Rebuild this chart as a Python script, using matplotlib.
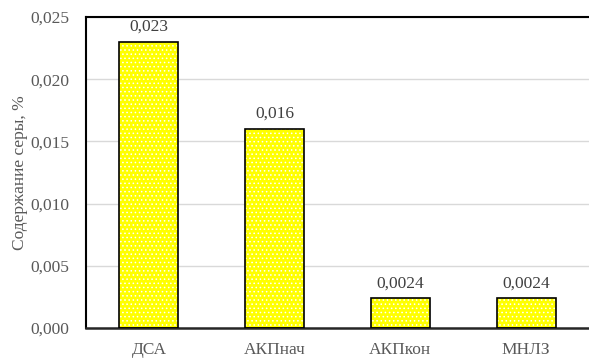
import matplotlib
matplotlib.use("Agg")
import matplotlib.pyplot as plt
from matplotlib.ticker import FuncFormatter, MultipleLocator

categories = ["ДСА", "АКПнач", "АКПкон", "МНЛЗ"]
sulfur = [0.023, 0.016, 0.0024, 0.0024]
value_labels = ["0,023", "0,016", "0,0024", "0,0024"]

plt.rcParams["font.family"] = ["Liberation Serif", "DejaVu Serif"]
plt.rcParams["hatch.linewidth"] = 0.6
text_color = "#595959"

fig = plt.figure(figsize=(5.89, 3.58), dpi=100)
ax = fig.add_axes([86 / 589, 1 - 328 / 358, 1 - 86 / 589, (328 - 17) / 358])

x = list(range(len(categories)))
width = 0.47
ax.bar(x, sulfur, width=width, color="#ffff00", edgecolor="none", zorder=2)
ax.bar(x, sulfur, width=width, color="none", edgecolor="white", hatch="....",
       linewidth=0, zorder=3)
ax.bar(x, sulfur, width=width, color="none", edgecolor="black", linewidth=1.2,
       zorder=4)

for xi, v, lab in zip(x, sulfur, value_labels):
    ax.annotate(lab, (xi, v), xytext=(0, 5), textcoords="offset points",
                ha="center", va="bottom", fontsize=12.5, color="#404040")

ax.set_xlim(-0.5, 3.5)
ax.set_ylim(0, 0.025)
ax.yaxis.set_major_locator(MultipleLocator(0.005))
ax.yaxis.set_major_formatter(FuncFormatter(lambda v, p: f"{v:.3f}".replace(".", ",")))
ax.set_xticks(x)
ax.set_xticklabels(categories)
ax.tick_params(axis="both", length=0, labelsize=12.5, labelcolor=text_color)
ax.tick_params(axis="y", pad=12)
ax.tick_params(axis="x", pad=10)
ax.grid(axis="y", color="#d9d9d9", linewidth=1, zorder=0)
ax.set_axisbelow(True)

ax.spines["right"].set_visible(False)
for s in ("left", "top"):
    ax.spines[s].set_color("black")
    ax.spines[s].set_linewidth(1.5)
ax.spines["bottom"].set_color("#262626")
ax.spines["bottom"].set_linewidth(1.8)

ax.set_ylabel("Содержание серы, %", fontsize=12.5, color=text_color, labelpad=2)

fig.savefig("out.png", dpi=100)
